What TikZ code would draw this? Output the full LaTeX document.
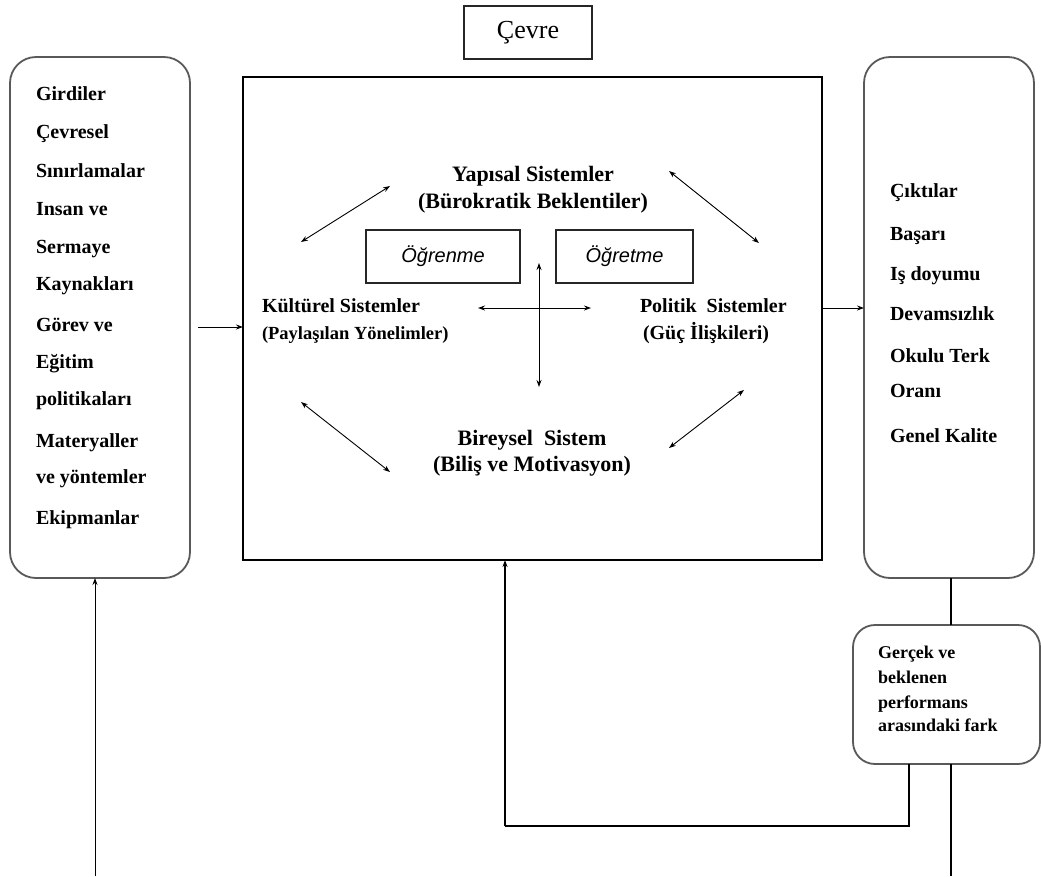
\documentclass[tikz,border=0pt]{standalone}
\usepackage{fontspec}
\setmainfont{Liberation Serif}
\newfontfamily\itsans{Liberation Sans}
\usetikzlibrary{arrows.meta}
\begin{document}
\begin{tikzpicture}[x=1pt,y=-1pt,
  every node/.style={inner sep=0pt, outer sep=0pt},
  mainframe/.style={draw=black, line width=1.3pt},
  smallframe/.style={draw=black!85, line width=1.3pt},
  roundbox/.style={draw=black!65, line width=1.8pt, rounded corners=26pt},
  gapbox/.style={draw=black!65, line width=1.8pt, rounded corners=22pt},
  arr/.style={-{Stealth[length=7pt,width=5pt]}, line width=0.9pt},
  darr/.style={{Stealth[length=7pt,width=5pt]}-{Stealth[length=7pt,width=5pt]}, line width=0.9pt},
  conn/.style={line width=1.3pt},
  list/.style={font=\bfseries\fontsize{20}{24}\selectfont, anchor=base west},
  gaptxt/.style={font=\bfseries\fontsize{18}{22}\selectfont, anchor=base west},
  big/.style={font=\bfseries\fontsize{22}{26}\selectfont, anchor=base},
  mid/.style={font=\bfseries\fontsize{20}{24}\selectfont, anchor=base west},
  sml/.style={font=\bfseries\fontsize{18.5}{22}\selectfont, anchor=base west},
  itbox/.style={smallframe, font=\itsans\itshape\fontsize{20}{24}\selectfont},
]
\useasboundingbox (0,0) rectangle (1041,876);

% boxes
\node[smallframe, minimum width=128pt, minimum height=53pt, font=\fontsize{26}{30}\selectfont] (cevre) at (528,32.5) {Çevre};
\node[roundbox, minimum width=180pt, minimum height=521pt] (inp) at (100,317.5) {};
\node[mainframe, minimum width=579pt, minimum height=483pt] (main) at (532.5,318.5) {};
\node[roundbox, minimum width=170pt, minimum height=521pt] (out) at (949,317.5) {};
\node[gapbox, minimum width=187pt, minimum height=139pt] (gap) at (946.5,694.5) {};

% left list
\node[list] (l1) at (36,100) {Girdiler};
\node[list] (l2) at (36,138) {Çevresel};
\node[list] (l3) at (36,177) {Sınırlamalar};
\node[list] (l4) at (36,215) {Insan ve};
\node[list] (l5) at (36,253) {Sermaye};
\node[list] (l6) at (36,290) {Kaynakları};
\node[list] (l7) at (36,331) {Görev ve};
\node[list] (l8) at (36,368) {Eğitim};
\node[list] (l9) at (36,405) {politikaları};
\node[list] (l10) at (36,447) {Materyaller};
\node[list] (l11) at (36,483) {ve yöntemler};
\node[list] (l12) at (36,524) {Ekipmanlar};

% right list
\node[list] (r1) at (890,197) {Çıktılar};
\node[list] (r2) at (890,240) {Başarı};
\node[list] (r3) at (890,280) {Iş doyumu};
\node[list] (r4) at (890,320) {Devamsızlık};
\node[list] (r5) at (890,362) {Okulu Terk};
\node[list] (r6) at (890,397) {Oranı};
\node[list] (r7) at (890,442) {Genel Kalite};

% gap text
\node[gaptxt] (g1) at (878,658) {Gerçek ve};
\node[gaptxt] (g2) at (878,683) {beklenen};
\node[gaptxt] (g3) at (878,708) {performans};
\node[gaptxt] (g4) at (878,731) {arasındaki fark};

% centre texts
\node[big] (y1) at (533,181) {Yapısal Sistemler};
\node[big] (y2) at (533,208) {(Bürokratik Beklentiler)};
\node[mid] (k1) at (262,312) {Kültürel Sistemler};
\node[sml] (k2) at (262,339) {(Paylaşılan Yönelimler)};
\node[mid] (p1) at (640,312) {Politik\ \ Sistemler};
\node[mid] (p2) at (643,339) {(Güç İlişkileri)};
\node[big] (b1) at (532,445) {Bireysel\ \ Sistem};
\node[big] (b2) at (532,471) {(Biliş ve Motivasyon)};

\node[itbox, minimum width=154pt, minimum height=53pt] (ogr) at (443,256.5) {Öğrenme\vphantom{Ög}};
\node[itbox, minimum width=137pt, minimum height=53pt] (ogt) at (624.5,256.5) {Öğretme\vphantom{Ög}};

% centre arrows
\coordinate (v1) at (539,263);
\coordinate (v2) at (539,387);
\coordinate (h1) at (478,308);
\coordinate (h2) at (591,308);
\draw[darr] (v1) -- (v2);
\draw[darr] (h1) -- (h2);
\coordinate (tl1) at (301,242); \coordinate (tl2) at (390,186);
\coordinate (tr1) at (669,171); \coordinate (tr2) at (759,243);
\coordinate (bl1) at (301,402); \coordinate (bl2) at (390,472);
\coordinate (br1) at (744,390); \coordinate (br2) at (669,448);
\draw[darr] (tl1) -- (tl2);
\draw[darr] (tr1) -- (tr2);
\draw[darr] (bl1) -- (bl2);
\draw[darr] (br1) -- (br2);

% connectors
\coordinate (inbottom) at (95,876);
\draw[arr] (inbottom) -- (inbottom |- inp.south);
\coordinate (ia) at (198,327);
\draw[arr] (ia) -- (ia -| main.west);
\coordinate (oa) at (822,308);
\draw[arr] (oa) -- (oa -| out.west);
\coordinate (ox) at (951,600);
\draw[conn] (ox |- out.south) -- (ox |- gap.north);
\coordinate (gbottom) at (951,876);
\draw[conn] (gbottom |- gap.south) -- (gbottom);
\coordinate (fb) at (909,826);
\coordinate (fbl) at (505,826);
\draw[conn] (fb |- gap.south) -- (fb) -- (fbl);
\draw[arr, line width=1.3pt] (fbl) -- (fbl |- main.south);
\end{tikzpicture}
\end{document}
